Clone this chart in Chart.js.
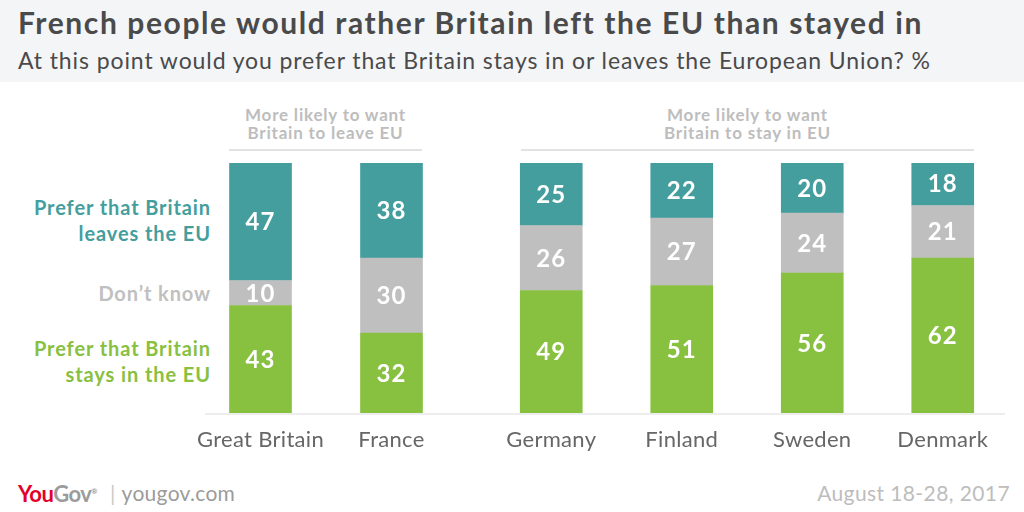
<!DOCTYPE html>
<html>
<head>
<meta charset="utf-8">
<script src="https://cdn.jsdelivr.net/npm/chart.js@4.4.1/dist/chart.umd.min.js"></script>
<style>
    body { margin: 0; width: 1024px; height: 512px; position: relative; overflow: hidden; background: #fff; font-family: Lato, "Open Sans", sans-serif; }
    .header { position: absolute; left: 0; top: 0; width: 1024px; height: 82px; background: #f4f5f7; }
    .title { position: absolute; left: 18px; top: 4px; font-size: 30px; font-weight: 700; letter-spacing: 1.6px; color: #4a4a4a; white-space: nowrap; }
    .subtitle { position: absolute; left: 18px; top: 46px; font-size: 23px; letter-spacing: 0.9px; color: #4a4a4a; white-space: nowrap; }
    .group-head { position: absolute; top: 106px; text-align: center; font-size: 17px; font-weight: 700; letter-spacing: 0.8px; line-height: 18px; color: #bdbdbd; padding-bottom: 7px; border-bottom: 2px solid #e2e2e2; }
    .legend { position: absolute; right: 813px; text-align: right; font-size: 20px; font-weight: 700; letter-spacing: 0.9px; line-height: 26px; white-space: nowrap; }
    .baseline { position: absolute; left: 205px; top: 413px; width: 800px; height: 2px; background: #ededed; z-index: 2; }
    canvas { position: absolute; top: 150px; }
    .logo { position: absolute; left: 18px; top: 480px; font-size: 22px; font-weight: 700; letter-spacing: -0.5px; }
    .site { position: absolute; left: 110px; top: 480px; font-size: 21px; letter-spacing: 0.3px; color: #9b9b9b; }
    .date { position: absolute; right: 14px; top: 480px; font-size: 21px; letter-spacing: 0.4px; color: #bdbdbd; }
</style>
</head>
<body>
<div class="header">
    <div class="title">French people would rather Britain left the EU than stayed in</div>
    <div class="subtitle">At this point would you prefer that Britain stays in or leaves the European Union? %</div>
</div>

<div class="group-head" style="left: 229px; width: 193px;">More likely to want<br>Britain to leave EU</div>
<div class="group-head" style="left: 521px; width: 453px;">More likely to want<br>Britain to stay in EU</div>

<div class="legend" style="top: 194px; color: #459e9e;">Prefer that Britain<br>leaves the EU</div>
<div class="legend" style="top: 280px; color: #c0c0c0;">Don’t know</div>
<div class="legend" style="top: 335px; color: #88c040;">Prefer that Britain<br>stays in the EU</div>

<canvas id="leftChart" width="262" height="320" style="left: 195px;"></canvas>
<canvas id="rightChart" width="522" height="320" style="left: 486px;"></canvas>
<div class="baseline"></div>

<div class="logo"><span style="color: #e4002b;">You</span><span style="color: #9b9b9b;">Gov</span><sup style="font-size: 7px; color: #9b9b9b;">®</sup></div>
<div class="site"><span style="color: #c8c8c8; margin-right: 6px;">|</span>yougov.com</div>
<div class="date">August 18-28, 2017</div>

<script>
const leaveCountries = ['Great Britain', 'France'];
const stayCountries = ['Germany', 'Finland', 'Sweden', 'Denmark'];
const stayIn = [43, 32, 49, 51, 56, 62];
const dontKnow = [10, 30, 26, 27, 24, 21];
const leaves = [47, 38, 25, 22, 20, 18];

const GREEN = '#88c040';
const GREY = '#bfbfbf';
const TEAL = '#459e9e';

const barLabels = {
    id: 'barLabels',
    afterDatasetsDraw(chart) {
        const ctx = chart.ctx;
        ctx.save();
        ctx.fillStyle = '#fff';
        ctx.font = 'bold 24px Lato, "Open Sans", sans-serif';
        ctx.letterSpacing = '1px';
        ctx.textAlign = 'center';
        ctx.textBaseline = 'middle';
        chart.data.datasets.forEach((ds, i) => {
            chart.getDatasetMeta(i).data.forEach((bar, j) => {
                ctx.fillText(ds.data[j], bar.x, (bar.y + bar.base) / 2 + 1);
            });
        });
        ctx.restore();
    }
};

const categoryLabels = {
    id: 'categoryLabels',
    afterDraw(chart) {
        const ctx = chart.ctx;
        const x = chart.scales.x;
        ctx.save();
        ctx.fillStyle = '#666';
        ctx.font = '22px Lato, "Open Sans", sans-serif';
        ctx.letterSpacing = '0.3px';
        ctx.textAlign = 'center';
        ctx.textBaseline = 'middle';
        chart.data.labels.forEach((label, i) => {
            ctx.fillText(label, x.getPixelForValue(i), chart.chartArea.bottom + 27);
        });
        ctx.restore();
    }
};

const makeChart = (id, labels, from, to) => new Chart(document.getElementById(id), {
    type: 'bar',
    data: {
        labels,
        datasets: [
            { label: 'Prefer that Britain stays in the EU', data: stayIn.slice(from, to), backgroundColor: GREEN },
            { label: 'Don’t know', data: dontKnow.slice(from, to), backgroundColor: GREY },
            { label: 'Prefer that Britain leaves the EU', data: leaves.slice(from, to), backgroundColor: TEAL }
        ]
    },
    options: {
        responsive: false,
        animation: false,
        layout: { padding: { top: 13, bottom: 57, left: 0, right: 0 } },
        barThickness: 62,
        plugins: { legend: { display: false }, tooltip: { enabled: false } },
        scales: {
            x: { stacked: true, display: false },
            y: { stacked: true, display: false, min: 0, max: 100 }
        }
    },
    plugins: [barLabels, categoryLabels]
});

makeChart('leftChart', leaveCountries, 0, 2);
makeChart('rightChart', stayCountries, 2, 6);
</script>
</body>
</html>
